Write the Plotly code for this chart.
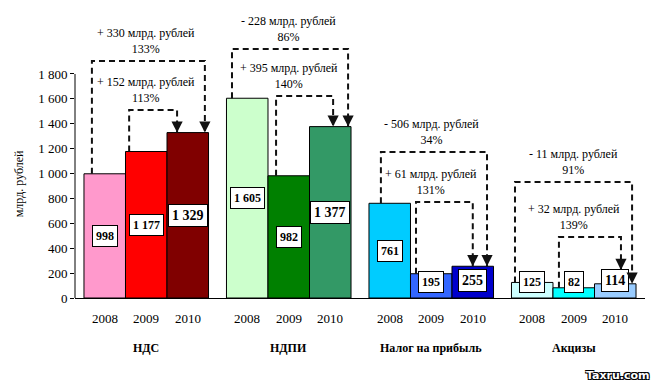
import plotly.graph_objects as go

# ---------------- data ----------------
groups = ["НДС", "НДПИ", "Налог на прибыль", "Акцизы"]
years = ["2008", "2009", "2010"]
v2008 = [998, 1605, 761, 125]
v2009 = [1177, 982, 195, 82]
v2010 = [1329, 1377, 255, 114]
outer_labels = ["+ 330 млрд. рублей<br>133%", "- 228 млрд. рублей<br>86%",
                "- 506 млрд. рублей<br>34%", "- 11 млрд. рублей<br>91%"]
inner_labels = ["+ 152 млрд. рублей<br>113%", "+ 395 млрд. рублей<br>140%",
                "+ 61 млрд. рублей<br>131%", "+ 32 млрд. рублей<br>139%"]
y_tickvals = [0, 200, 400, 600, 800, 1000, 1200, 1400, 1600, 1800]
y_ticktext = ["0", "200", "400", "600", "800", "1 000", "1 200", "1 400", "1 600", "1 800"]
y_title = "млрд. рублей"
watermark = "Taxru.com"

# ---------------- style ----------------
c2008 = ["#FF99CC", "#CCFFCC", "#00CCFF", "#CCFFFF"]
c2009 = ["#FF0000", "#008000", "#3366FF", "#00FFFF"]
c2010 = ["#800000", "#339966", "#0000CC", "#99CCFF"]
FONT = "Liberation Serif"
BARGAP = 0.126
W = (1 - BARGAP) / 3
outer_top = [1905, 2001, 1174, 932]
inner_top = [1511, 1624, 772, 490]
outer_left_off = [-0.09, -0.107, -0.062, -0.121]
outer_right_off = [0.12, 0.125, 0.10, 0.118]
inner_left_off = [-0.12, -0.089, -0.107, -0.104]
inner_right_off = [-0.075, 0.02, 0.0, 0.04]
inner_tip_override = [None, None, None, 225]
label_sizes = [12, 12, 14]
label_floor = [125, 125, 140]

series = [v2008, v2009, v2010]
colors = [c2008, c2009, c2010]
xs = list(range(len(groups)))

fig = go.Figure()
for i, yr in enumerate(years):
    fig.add_trace(go.Bar(
        x=xs, y=series[i], name=yr,
        marker=dict(color=colors[i], line=dict(color="black", width=1)),
        showlegend=False, hoverinfo="skip"))

annotations = []
shapes = []


def fmt(v):
    return f"{v:,}".replace(",", " ")


def center(g, i):
    return g + (i - 1) * W


# value labels and year labels
for i, yr in enumerate(years):
    for g in xs:
        v = series[i][g]
        annotations.append(dict(
            x=center(g, i), y=max(v / 2, label_floor[i]), xref="x", yref="y",
            text=f"<b>{fmt(v)}</b>", showarrow=False,
            font=dict(family=FONT, size=label_sizes[i], color="black"),
            bgcolor="white", bordercolor="black", borderwidth=1, borderpad=3))
        annotations.append(dict(
            x=center(g, i), y=0, xref="x", yref="paper", yanchor="middle",
            yshift=-20, text=yr, showarrow=False,
            font=dict(family=FONT, size=13, color="black")))

# group labels
for g in xs:
    annotations.append(dict(
        x=g, y=0, xref="x", yref="paper", yanchor="middle", yshift=-50,
        text=f"<b>{groups[g]}</b>", showarrow=False,
        font=dict(family=FONT, size=12, color="black")))

dash_line = dict(color="#111111", width=2, dash="6px,4px")


def bracket(x_left, y_start, top, x_right, y_tip, label, gx):
    shapes.append(dict(
        type="path", xref="x", yref="y",
        path=f"M {x_left},{y_start} L {x_left},{top} L {x_right},{top} L {x_right},{y_tip}",
        line=dash_line))
    annotations.append(dict(
        x=x_right, y=y_tip, xref="x", yref="y", ax=0, ay=-12,
        text="", showarrow=True, arrowhead=2, arrowsize=1.4, arrowwidth=1.6,
        arrowcolor="#111111"))
    annotations.append(dict(
        x=gx, y=top, xref="x", yref="y", yanchor="bottom", yshift=3,
        text=label, showarrow=False,
        font=dict(family=FONT, size=12, color="black")))


for g in xs:
    tip = v2010[g]
    bracket(center(g, 0) + outer_left_off[g], v2008[g], outer_top[g],
            center(g, 2) + outer_right_off[g], tip, outer_labels[g], g)
    itip = inner_tip_override[g] if inner_tip_override[g] is not None else tip
    bracket(center(g, 1) + inner_left_off[g], v2009[g], inner_top[g],
            center(g, 2) + inner_right_off[g], itip, inner_labels[g], g)

# y-axis line only up to the top tick
shapes.append(dict(type="line", xref="paper", yref="y", x0=0, x1=0,
                   y0=0, y1=y_tickvals[-1], line=dict(color="black", width=1)))

# y title
annotations.append(dict(
    x=0, y=0.395, xref="paper", yref="paper", xshift=-56, xanchor="center",
    text=y_title, textangle=-90, showarrow=False,
    font=dict(family=FONT, size=12, color="black")))

# watermark
annotations.append(dict(
    x=1, y=0, xref="paper", yref="paper", xanchor="right", yanchor="middle",
    xshift=7, yshift=-77, text=f"<b>{watermark}</b>", showarrow=False,
    font=dict(family="DejaVu Sans", size=11, color="white",
              shadow="1px 1px 0 #000, -1px -1px 0 #000, 1px -1px 0 #000, -1px 1px 0 #000")))

fig.update_layout(
    width=654, height=385,
    margin=dict(l=75, r=9, t=10, b=87, autoexpand=False),
    paper_bgcolor="white", plot_bgcolor="white",
    barmode="group", bargap=BARGAP, bargroupgap=0,
    xaxis=dict(range=[-0.5, 3.5], showticklabels=False, ticks="",
               showline=True, linecolor="black", linewidth=1,
               showgrid=False, zeroline=False),
    yaxis=dict(range=[0, 2314], tickvals=y_tickvals, ticktext=y_ticktext,
               ticks="outside", ticklen=4, tickcolor="black",
               showline=False, showgrid=False, zeroline=False,
               tickfont=dict(family=FONT, size=13, color="black")),
    annotations=annotations, shapes=shapes,
)

fig.write_html("out.html", config={"displayModeBar": False},
               post_script="document.body.style.margin='0';document.body.style.padding='0';")
